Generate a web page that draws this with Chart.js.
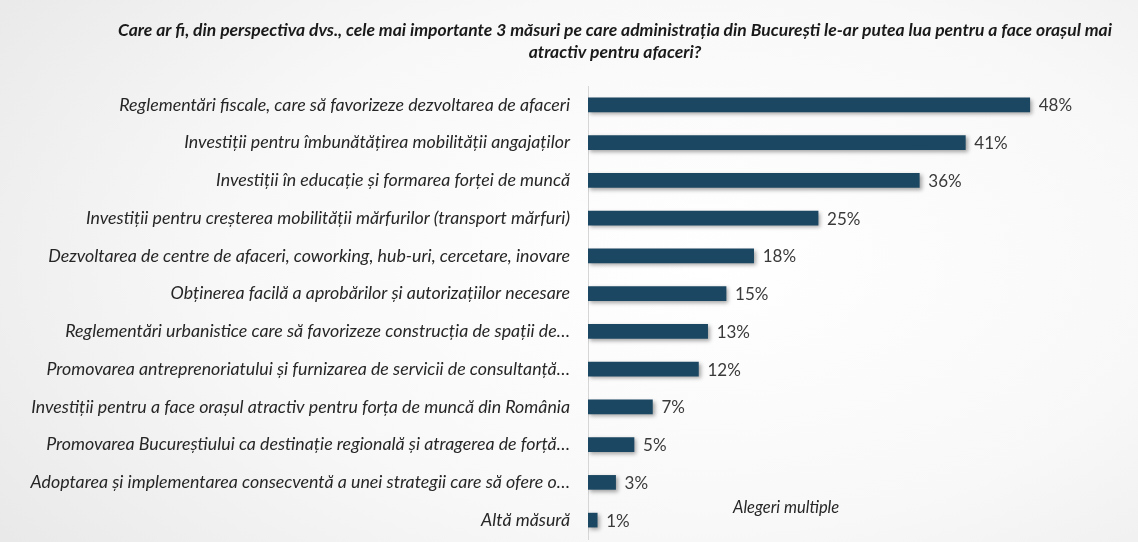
<!DOCTYPE html>
<html>
<head>
<meta charset="utf-8">
<script src="https://cdn.jsdelivr.net/npm/chart.js@4"></script>
<style>
    html, body {
        margin: 0;
        padding: 0;
        width: 1138px;
        height: 542px;
        overflow: hidden;
    }
    body {
        background: radial-gradient(ellipse 75% 90% at 62% 48%, #ffffff 0%, #f8f8f8 55%, #e9e9e9 100%);
    }
    canvas {
        display: block;
    }
</style>
</head>
<body>
<canvas id="measuresChart" width="1138" height="542" style="width:1138px;height:542px"></canvas>
<script>
// date
const titleLines = [
    'Care ar fi, din perspectiva dvs., cele mai importante 3 măsuri pe care administrația din București le-ar putea lua pentru a face orașul mai',
    'atractiv pentru afaceri?'
];
const categories = [
    'Reglementări fiscale, care să favorizeze dezvoltarea de afaceri',
    'Investiții pentru îmbunătățirea mobilității angajaților',
    'Investiții în educație și formarea forței de muncă',
    'Investiții pentru creșterea mobilității mărfurilor (transport mărfuri)',
    'Dezvoltarea de centre de afaceri, coworking, hub-uri, cercetare, inovare',
    'Obținerea facilă a aprobărilor și autorizațiilor necesare',
    'Reglementări urbanistice care să favorizeze construcția de spații de…',
    'Promovarea antreprenoriatului și furnizarea de servicii de consultanță…',
    'Investiții pentru a face orașul atractiv pentru forța de muncă din România',
    'Promovarea Bucureștiului ca destinație regională și atragerea de forță…',
    'Adoptarea și implementarea consecventă a unei strategii care să ofere o…',
    'Altă măsură'
];
const percentages = [48, 41, 36, 25, 18, 15, 13, 12, 7, 5, 3, 1];
const noteText = 'Alegeri multiple';

const barColor = '#1c4762';
const textColor = '#262626';

// umbra sub bare
const shadowPlugin = {
    id: 'barShadow',
    beforeDatasetsDraw(chart) {
        const ctx = chart.ctx;
        ctx.save();
        ctx.shadowColor = 'rgba(0, 0, 0, 0.35)';
        ctx.shadowBlur = 4;
        ctx.shadowOffsetX = 2;
        ctx.shadowOffsetY = 2;
    },
    afterDatasetsDraw(chart) {
        chart.ctx.restore();
    }
};

// titlul (centrat putin spre dreapta, ca in original)
const titlePlugin = {
    id: 'customTitle',
    afterDraw(chart) {
        const ctx = chart.ctx;
        ctx.save();
        ctx.font = 'italic bold 17.5px Lato';
        ctx.fillStyle = '#1a1a1a';
        ctx.textAlign = 'center';
        ctx.textBaseline = 'middle';
        titleLines.forEach((line, i) => {
            ctx.fillText(line, 615, 30 + i * 22);
        });
        ctx.restore();
    }
};

// etichetele cu procente si nota "Alegeri multiple"
const labelsPlugin = {
    id: 'valueLabels',
    afterDraw(chart) {
        const ctx = chart.ctx;
        const meta = chart.getDatasetMeta(0);
        ctx.save();
        ctx.font = '17px Lato';
        ctx.fillStyle = '#3a3a3a';
        ctx.textAlign = 'left';
        ctx.textBaseline = 'middle';
        meta.data.forEach((bar, i) => {
            ctx.fillText(percentages[i] + '%', bar.x + 9, bar.y + 1);
        });
        ctx.font = 'italic 16.5px Lato';
        ctx.fillStyle = textColor;
        ctx.fillText(noteText, 733, 508);
        ctx.restore();
    }
};

const ctx = document.getElementById('measuresChart').getContext('2d');
const measuresChart = new Chart(ctx, {
    type: 'bar',
    data: {
        labels: categories,
        datasets: [{
            data: percentages,
            backgroundColor: barColor,
            borderWidth: 0,
            barThickness: 14
        }]
    },
    options: {
        indexAxis: 'y',
        responsive: false,
        animation: false,
        devicePixelRatio: 1,
        layout: {
            padding: { left: 8, right: 7, top: 86, bottom: 3 }
        },
        scales: {
            x: {
                display: false,
                min: 0,
                max: 59
            },
            y: {
                afterFit: function(scale) {
                    scale.width = 588 - 8;  // axa verticala la x=588
                    scale.paddingTop = 0;
                    scale.paddingBottom = 0;
                },
                grid: { display: false, drawTicks: false },
                border: { display: true, color: '#d6d6d6', width: 1 },
                ticks: {
                    padding: 18,
                    color: textColor,
                    font: { family: 'Lato', size: 17.8, style: 'italic' }
                }
            }
        },
        plugins: {
            legend: { display: false },
            tooltip: { enabled: false },
            title: { display: false }
        }
    },
    plugins: [shadowPlugin, titlePlugin, labelsPlugin]
});
</script>
</body>
</html>
